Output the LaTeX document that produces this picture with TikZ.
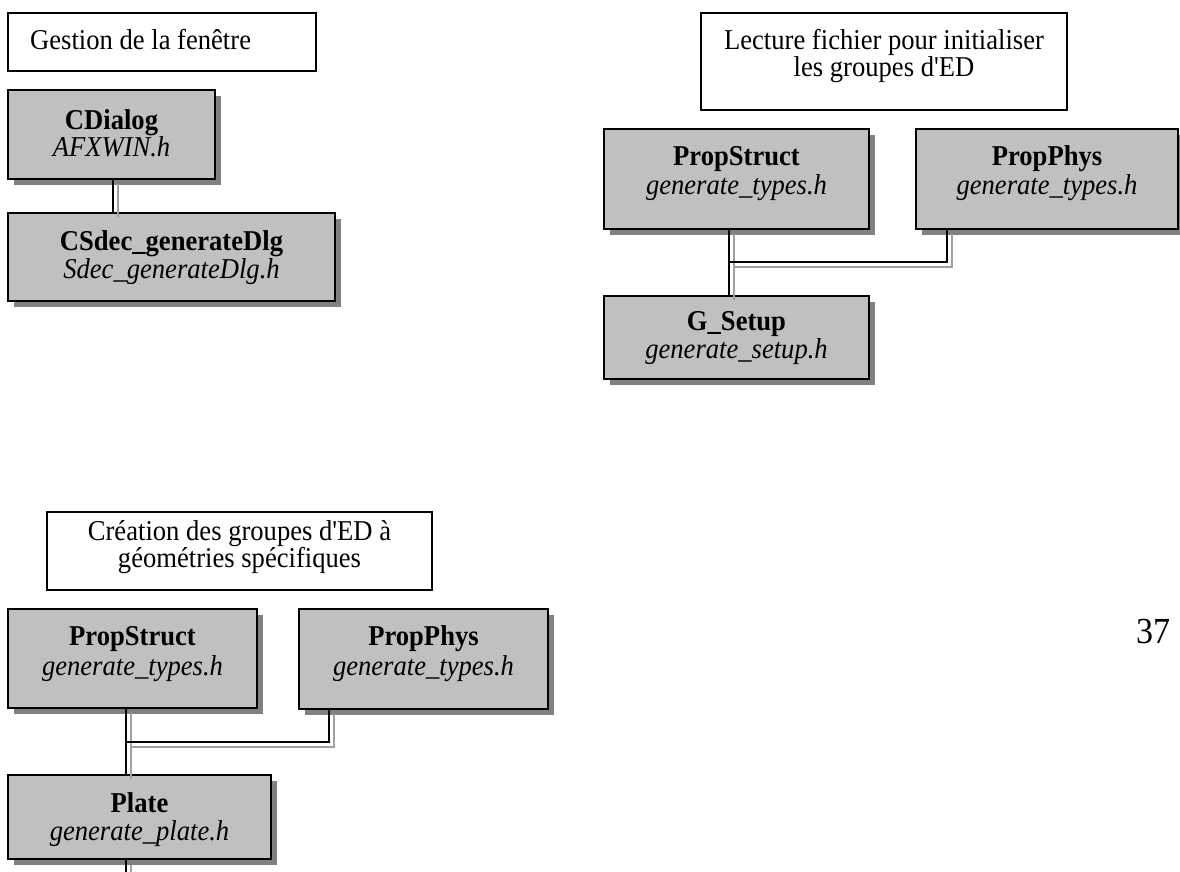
\documentclass[tikz,border=0pt]{standalone}
\usepackage{graphicx}
\usepackage{fontspec}
\setmainfont{Liberation Serif}
\usetikzlibrary{shadows,calc}
\definecolor{boxgray}{HTML}{C0C0C0}
\definecolor{shadowgray}{HTML}{808080}
\definecolor{lineshadow}{HTML}{A0A0A0}
\newcommand{\stretchtxt}[1]{\scalebox{1}[1.08]{#1}}
\tikzset{
  clsbox/.style={draw=black, line width=2.6pt, fill=boxgray, inner sep=0pt,
    drop shadow={shadow xshift=6pt, shadow yshift=-6pt, fill=shadowgray, opacity=1}},
  notebox/.style={draw=black, line width=2pt, inner sep=0pt},
  lbl/.style={inner sep=0pt, anchor=base, font=\fontsize{26.6}{27}\selectfont},
  conn/.style={draw=black, line width=2.2pt},
  connshadow/.style={draw=lineshadow, line width=2.2pt, transform canvas={shift={(5pt,-5pt)}}},
}
\begin{document}
\begin{tikzpicture}[x=1pt,y=-1pt]
\useasboundingbox (0,0) rectangle (1180,872);

% ---------- Gestion de la fenetre ----------
\node[notebox, minimum width=308pt, minimum height=58pt] (gestion) at (162,42) {};
\node[lbl, anchor=base west] (gestionT) at (30,50) {\stretchtxt{Gestion de la fenêtre}};

\node[clsbox, minimum width=207pt, minimum height=89pt] (cdialog) at (111.5,134.5) {};
\node[lbl] (cdialogA) at (111.5,130) {\stretchtxt{\bfseries CDialog}};
\node[lbl] (cdialogB) at (111.5,157) {\stretchtxt{\itshape AFXWIN.h}};

\node[clsbox, minimum width=327pt, minimum height=88pt] (csdec) at (171.5,257) {};
\node[lbl] (csdecA) at (171.5,250) {\stretchtxt{\bfseries CSdec\_generateDlg}};
\node[lbl] (csdecB) at (171.5,278) {\stretchtxt{\itshape Sdec\_generateDlg.h}};

\coordinate (c1a) at (113,179);
\draw[connshadow] (c1a) -- (c1a |- csdec.north);
\draw[conn] (c1a) -- (c1a |- csdec.north);

% ---------- Lecture fichier ----------
\node[notebox, minimum width=366pt, minimum height=97pt] (lecture) at (884,61.5) {};
\node[lbl] (lectureA) at (884,50) {\stretchtxt{Lecture fichier pour initialiser}};
\node[lbl] (lectureB) at (884,77) {\stretchtxt{les groupes d\textquotesingle ED}};

\node[clsbox, minimum width=265pt, minimum height=100pt] (psA) at (736.5,179) {};
\node[lbl] (psAa) at (736.5,165) {\stretchtxt{\bfseries PropStruct}};
\node[lbl] (psAb) at (736.5,194) {\stretchtxt{\itshape generate\_types.h}};

\node[clsbox, minimum width=262pt, minimum height=100pt] (ppA) at (1047,179) {};
\node[lbl] (ppAa) at (1047,165) {\stretchtxt{\bfseries PropPhys}};
\node[lbl] (ppAb) at (1047,194) {\stretchtxt{\itshape generate\_types.h}};

\node[clsbox, minimum width=265pt, minimum height=83pt] (gsetup) at (736.5,337.5) {};
\node[lbl] (gsetupA) at (736.5,330) {\stretchtxt{\bfseries G\_Setup}};
\node[lbl] (gsetupB) at (736.5,358) {\stretchtxt{\itshape generate\_setup.h}};

\coordinate (psAd) at (729,229);
\coordinate (ppAd) at (947,229);
\coordinate (jA) at (729,262);
\draw[connshadow] (psAd) -- (psAd |- gsetup.north);
\draw[connshadow] (ppAd) |- (jA);
\draw[conn] (psAd) -- (psAd |- gsetup.north);
\draw[conn] (ppAd) |- (jA);

% ---------- Creation des groupes ----------
\node[notebox, minimum width=385pt, minimum height=78pt] (creation) at (239.5,551) {};
\node[lbl] (creationA) at (239.5,540) {\stretchtxt{Création des groupes d\textquotesingle ED à}};
\node[lbl] (creationB) at (239.5,567) {\stretchtxt{géométries spécifiques}};

\node[clsbox, minimum width=249pt, minimum height=99pt] (psB) at (132.5,658.5) {};
\node[lbl] (psBa) at (132.5,645) {\stretchtxt{\bfseries PropStruct}};
\node[lbl] (psBb) at (132.5,675) {\stretchtxt{\itshape generate\_types.h}};

\node[clsbox, minimum width=249pt, minimum height=100pt] (ppB) at (423.5,659) {};
\node[lbl] (ppBa) at (423.5,645) {\stretchtxt{\bfseries PropPhys}};
\node[lbl] (ppBb) at (423.5,675) {\stretchtxt{\itshape generate\_types.h}};

\node[clsbox, minimum width=263pt, minimum height=84pt] (plate) at (139.5,817) {};
\node[lbl] (plateA) at (139.5,812) {\stretchtxt{\bfseries Plate}};
\node[lbl] (plateB) at (139.5,840) {\stretchtxt{\itshape generate\_plate.h}};

\coordinate (psBd) at (126,708);
\coordinate (ppBd) at (329,709);
\coordinate (jB) at (126,742);
\coordinate (plateEnd) at (126,880);
\draw[connshadow] (psBd) -- (psBd |- plate.north);
\draw[connshadow] (ppBd) |- (jB);
\draw[connshadow] (psBd |- plate.south) -- (plateEnd);
\draw[conn] (psBd) -- (psBd |- plate.north);
\draw[conn] (ppBd) |- (jB);
\draw[conn] (psBd |- plate.south) -- (plateEnd);

% ---------- page number ----------
\node[lbl] (pagenum) at (1153,643) {\stretchtxt{\fontsize{34}{34}\selectfont 37}};
\end{tikzpicture}
\end{document}
